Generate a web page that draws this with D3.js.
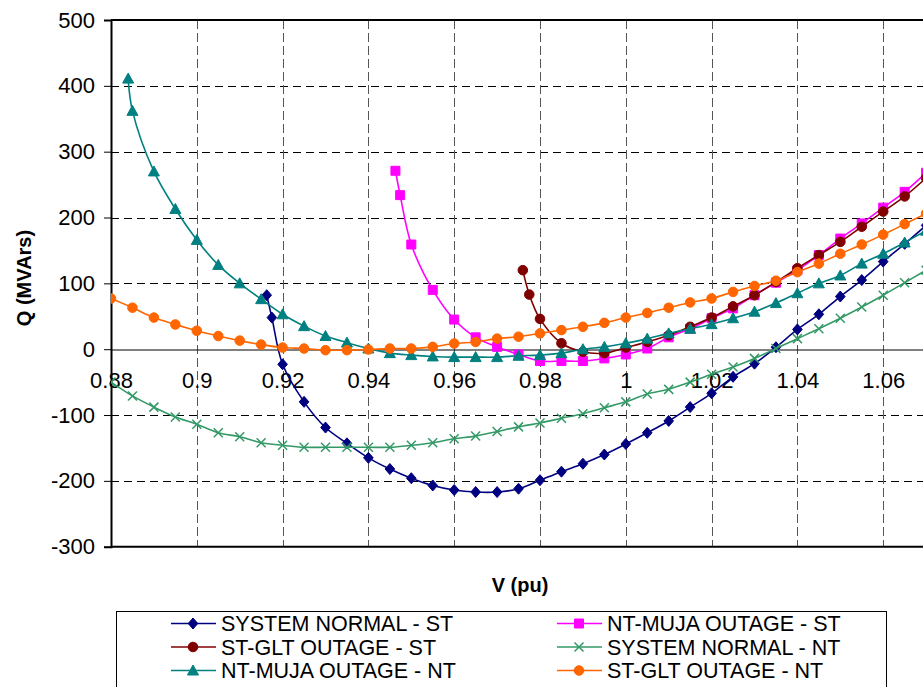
<!DOCTYPE html>
<html>
<head>
<meta charset="utf-8">
<script src="https://cdn.jsdelivr.net/npm/d3@7"></script>
<style>
  html, body { margin: 0; padding: 0; background: #fff; }
  svg { display: block; font-family: "Liberation Sans", Arial, sans-serif; }
</style>
</head>
<body>
<svg id="chart" width="923" height="687"></svg>
<script>
// Q-V curves: reactive power margin vs bus voltage for several system conditions

// ----- tick values -----
const xTicks = [0.88, 0.90, 0.92, 0.94, 0.96, 0.98, 1.00, 1.02, 1.04, 1.06];
const yTicks = [-300, -200, -100, 0, 100, 200, 300, 400, 500];

// ----- SYSTEM NORMAL - ST -----
const vSysNormalST = [0.9163, 0.9175, 0.92, 0.925, 0.93, 0.935, 0.94, 0.945, 0.95, 0.955, 0.96, 0.965, 0.97, 0.975,
  0.98, 0.985, 0.99, 0.995, 1.0, 1.005, 1.01, 1.015, 1.02, 1.025, 1.03, 1.035, 1.04, 1.045, 1.05, 1.055, 1.06, 1.065, 1.07];
const qSysNormalST = [82, 48, -23, -80, -119, -143, -165, -182, -196, -207, -214, -217, -217, -212,
  -199, -186, -174, -160, -144, -127, -109, -88, -67, -42, -22, 3, 30, 53, 80, 105, 133, 160, 188];

// ----- NT-MUJA OUTAGE - ST -----
const vMujaOutST = [0.9463, 0.9474, 0.95, 0.955, 0.96, 0.965, 0.97, 0.975, 0.98, 0.985, 0.99, 0.995, 1.0,
  1.005, 1.01, 1.015, 1.02, 1.025, 1.03, 1.035, 1.04, 1.045, 1.05, 1.055, 1.06, 1.065, 1.07];
const qMujaOutST = [271, 234, 159, 90, 45, 18, 3.5, -8, -18, -18, -18, -14, -8,
  1, 18, 31, 47, 62, 82, 101, 120, 143, 168, 191, 215, 239, 268];

// ----- ST-GLT OUTAGE - ST -----
const vGltOutST = [0.976, 0.9775, 0.98, 0.985, 0.99, 0.995, 1.0, 1.005, 1.01, 1.015, 1.02,
  1.025, 1.03, 1.035, 1.04, 1.045, 1.05, 1.055, 1.06, 1.065, 1.07];
const qGltOutST = [120, 83, 46, 9, -4, -6, 2.5, 11, 21, 34, 48,
  65, 82, 102, 123, 143, 163, 186, 209, 232, 260];

// ----- SYSTEM NORMAL - NT -----
const vSysNormalNT = [0.88, 0.885, 0.89, 0.895, 0.9, 0.905, 0.91, 0.915, 0.92, 0.925, 0.93, 0.935, 0.94,
  0.945, 0.95, 0.955, 0.96, 0.965, 0.97, 0.975, 0.98, 0.985, 0.99, 0.995, 1.0, 1.005, 1.01,
  1.015, 1.02, 1.025, 1.03, 1.035, 1.04, 1.045, 1.05, 1.055, 1.06, 1.065, 1.07];
const qSysNormalNT = [-50, -71, -88, -103, -114, -127, -133, -142, -146, -149, -149, -149, -149,
  -149, -146, -142, -136, -132, -125, -118, -112, -105, -98, -89, -80, -68, -61,
  -50, -38, -27, -14, 1, 16, 31, 47, 64, 82, 101, 120];

// ----- NT-MUJA OUTAGE - NT -----
const vMujaOutNT = [0.884, 0.885, 0.89, 0.895, 0.9, 0.905, 0.91, 0.915, 0.92, 0.925, 0.93, 0.935, 0.94,
  0.945, 0.95, 0.955, 0.96, 0.965, 0.97, 0.975, 0.98, 0.985, 0.99, 0.995, 1.0, 1.005, 1.01,
  1.015, 1.02, 1.025, 1.03, 1.035, 1.04, 1.045, 1.05, 1.055, 1.06, 1.065, 1.07];
const qMujaOutNT = [411, 362, 270, 213, 166, 128, 100, 76, 53, 35, 20, 10, 1,
  -6, -9, -11, -12, -12, -12, -10, -9, -6, 0, 3.5, 9, 16, 24,
  31, 38, 47, 57, 70, 85, 100, 112, 130, 145, 162, 180];

// ----- ST-GLT OUTAGE - NT -----
const vGltOutNT = [0.88, 0.885, 0.89, 0.895, 0.9, 0.905, 0.91, 0.915, 0.92, 0.925, 0.93, 0.935, 0.94,
  0.945, 0.95, 0.955, 0.96, 0.965, 0.97, 0.975, 0.98, 0.985, 0.99, 0.995, 1.0, 1.005, 1.01,
  1.015, 1.02, 1.025, 1.03, 1.035, 1.04, 1.045, 1.05, 1.055, 1.06, 1.065, 1.07];
const qGltOutNT = [77, 63, 48, 37.5, 28, 20, 13, 7, 2.5, 1, -1.5, -1.5, -0.5,
  1, 1, 3.5, 8.6, 11, 16, 19, 24, 29, 34, 40, 48, 55, 63,
  71, 77, 87, 96, 104, 117, 130, 145, 159, 174, 190, 206];

const seriesNames = ["SYSTEM NORMAL - ST", "NT-MUJA OUTAGE - ST", "ST-GLT OUTAGE - ST",
  "SYSTEM NORMAL - NT", "NT-MUJA OUTAGE - NT", "ST-GLT OUTAGE - NT"];
const seriesColors = ["#000080", "#FF00FF", "#800000", "#339966", "#008080", "#FF6600"];
const seriesMarkers = ["diamond", "square", "circle", "cross", "triangle", "circle"];

const series = [
  { v: vSysNormalST, q: qSysNormalST },
  { v: vMujaOutST, q: qMujaOutST },
  { v: vGltOutST, q: qGltOutST },
  { v: vSysNormalNT, q: qSysNormalNT },
  { v: vMujaOutNT, q: qMujaOutNT },
  { v: vGltOutNT, q: qGltOutNT }
].map((s, i) => ({
  name: seriesNames[i], color: seriesColors[i], marker: seriesMarkers[i],
  points: s.v.map((v, j) => ({ v, q: s.q[j] }))
}));

// ----- layout -----
const svg = d3.select("#chart");
const plotLeft = 111, plotTop = 20, plotBottom = 546.7;
// the plot area runs on past the right edge of the page (to 1.08 pu)
const x = d3.scaleLinear().domain([0.88, 1.08]).range([plotLeft, plotLeft + 10 * 85.8]);
const y = d3.scaleLinear().domain([-300, 500]).range([plotBottom, plotTop]);
const plotRight = x(1.08);

// gridlines
svg.append("g").selectAll("line").data(yTicks.filter(d => d !== 0 && d !== -300 && d !== 500))
  .join("line")
  .attr("x1", plotLeft).attr("x2", plotRight)
  .attr("y1", d => Math.round(y(d)) + 0.5).attr("y2", d => Math.round(y(d)) + 0.5)
  .attr("stroke", "#000").attr("stroke-width", 1).attr("stroke-dasharray", "8,5");
svg.append("g").selectAll("line").data(xTicks.slice(1))
  .join("line")
  .attr("x1", d => Math.round(x(d)) + 0.5).attr("x2", d => Math.round(x(d)) + 0.5)
  .attr("y1", plotTop).attr("y2", plotBottom)
  .attr("stroke", "#555").attr("stroke-width", 1).attr("stroke-dasharray", "9,4");

// plot frame
svg.append("line").attr("x1", plotLeft).attr("x2", plotRight).attr("y1", plotTop).attr("y2", plotTop)
  .attr("stroke", "#000").attr("stroke-width", 2);
svg.append("line").attr("x1", plotLeft).attr("x2", plotRight).attr("y1", plotBottom).attr("y2", plotBottom)
  .attr("stroke", "#000").attr("stroke-width", 2);

// y axis
const yAxis = d3.axisLeft(y).tickValues(yTicks).tickSize(7).tickPadding(9).tickFormat(d => String(d));
const gy = svg.append("g").attr("transform", `translate(${plotLeft},0)`).call(yAxis);
gy.select(".domain").attr("stroke-width", 2);
gy.selectAll("text").attr("font-size", 22).attr("font-family", "'Liberation Sans', Arial, sans-serif").attr("fill", "#000");

// x axis drawn through Q = 0, labels just below it
const xAxis = d3.axisBottom(x).tickValues(xTicks).tickSize(0).tickPadding(23)
  .tickFormat(d => String(+d.toFixed(2)));
const gx = svg.append("g").attr("transform", `translate(0,${Math.round(y(0)) + 0.5})`).call(xAxis);
gx.select(".domain").attr("stroke", "#000").attr("stroke-width", 1);
gx.selectAll("text").attr("font-size", 22).attr("font-family", "'Liberation Sans', Arial, sans-serif").attr("fill", "#000");

// axis titles
svg.append("text").attr("transform", "translate(31,278) rotate(-90)")
  .attr("text-anchor", "middle").attr("font-weight", "bold").attr("font-size", 20)
  .text("Q (MVArs)");
svg.append("text").attr("x", 520).attr("y", 592)
  .attr("text-anchor", "middle").attr("font-weight", "bold").attr("font-size", 20)
  .text("V (pu)");

// marker shapes
function markerPath(type) {
  switch (type) {
    case "diamond": return "M0,-5.5L4.8,0L0,5.5L-4.8,0Z";
    case "square": return "M-4.5,-4.5H4.5V4.5H-4.5Z";
    case "triangle": return "M0,-5.5L5.5,4.5L-5.5,4.5Z";
    case "cross": return "M-4.5,-4.5L4.5,4.5M4.5,-4.5L-4.5,4.5";
    default: return d3.symbol(d3.symbolCircle, 72)();
  }
}
function drawMarker(sel, s) {
  const filled = s.marker !== "cross";
  sel.append("path").attr("d", markerPath(s.marker))
    .attr("fill", filled ? s.color : "none")
    .attr("stroke", s.color).attr("stroke-width", filled ? 1 : 1.5);
}

// series
svg.append("clipPath").attr("id", "plotClip").append("rect")
  .attr("x", plotLeft).attr("y", plotTop - 8).attr("width", plotRight - plotLeft + 8).attr("height", plotBottom - plotTop + 16);
const line = d3.line().x(d => x(d.v)).y(d => y(d.q)).curve(d3.curveCatmullRom.alpha(0.5));
const gSeries = svg.append("g").attr("clip-path", "url(#plotClip)");
series.forEach(s => {
  const g = gSeries.append("g");
  g.append("path").datum(s.points).attr("d", line)
    .attr("fill", "none").attr("stroke", s.color).attr("stroke-width", 1.6);
  g.selectAll("g.pt").data(s.points).join("g").attr("class", "pt")
    .attr("transform", d => `translate(${x(d.v)},${y(d.q)})`)
    .each(function () { drawMarker(d3.select(this), s); });
});

// legend (two columns, row-major order)
const legend = svg.append("g");
legend.append("rect").attr("x", 116.5).attr("y", 611.5).attr("width", 770).attr("height", 120)
  .attr("fill", "#fff").attr("stroke", "#000").attr("stroke-width", 1);
const colX = [171, 557], rowY = [623.5, 647, 670.5];
series.forEach((s, i) => {
  const cx = colX[i % 2], cy = rowY[Math.floor(i / 2)];
  const g = legend.append("g").attr("transform", `translate(${cx},${cy})`);
  g.append("line").attr("x1", 0).attr("x2", 45).attr("y1", 0).attr("y2", 0)
    .attr("stroke", s.color).attr("stroke-width", 1.6);
  drawMarker(g.append("g").attr("transform", "translate(22,0)"), s);
  g.append("text").attr("x", 50).attr("y", 0).attr("dy", "0.36em")
    .attr("font-size", 21.5).attr("fill", "#000").text(s.name);
});
</script>
</body>
</html>
